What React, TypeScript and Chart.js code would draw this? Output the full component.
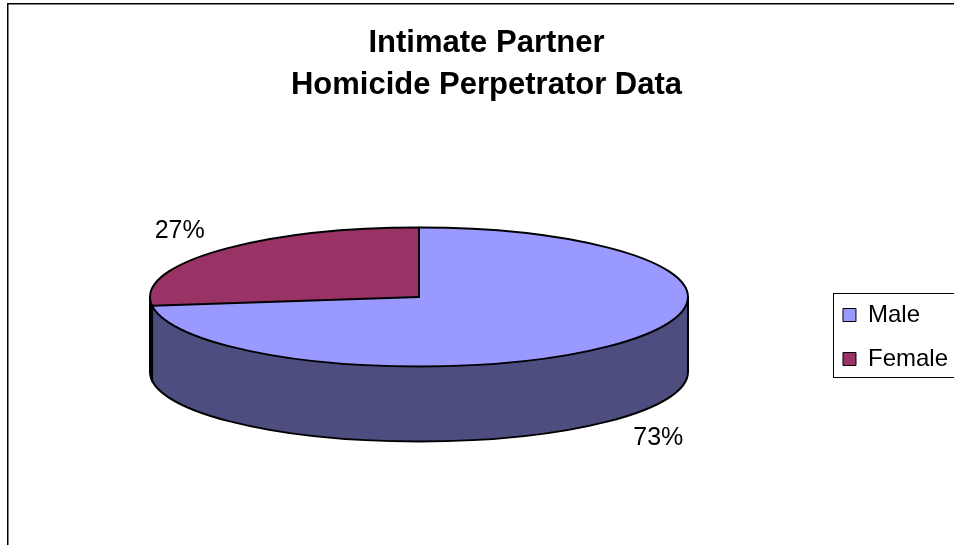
import React, { useEffect, useRef } from 'react';
import { Chart, registerables } from 'chart.js';

Chart.register(...registerables);

// ---- data ----
const categories = ['Male', 'Female'];
const shares = [73, 27];
const titleLines = ['Intimate Partner', 'Homicide Perpetrator Data'];

// ---- style ----
const topColors = ['#9999FF', '#993366'];
const sideColors = ['#4D4D80', '#4D1A33'];
const FONT = "'Liberation Sans', Arial, Helvetica, sans-serif";
const W = 962;
const H = 565;
const PIE_RX = 269;
const PIE_RY = 69.5;
const PIE_DEPTH = 75;
const PIE_LIFT = 40;
const LABEL_DX = 50;
const LABEL_DY = 30;

function geometry(chart: any) {
  const arcs = chart.getDatasetMeta(0).data as any[];
  const el = arcs[0];
  return { cx: el.x, cy: el.y - PIE_LIFT, arcs, el };
}

const pie3d = {
  id: 'pie3d',
  beforeDraw(chart: any) {
    const { ctx } = chart;
    ctx.save();
    ctx.fillStyle = '#ffffff';
    ctx.fillRect(0, 0, chart.width, chart.height);
    ctx.strokeStyle = '#000';
    ctx.lineWidth = 1.5;
    ctx.strokeRect(0.75, 0.75, chart.width - 1.5, chart.height - 1.5);
    ctx.restore();
  },
  beforeDatasetsDraw(chart: any) {
    const { ctx } = chart;
    const { cx, cy, arcs, el } = geometry(chart);
    // side walls (front half only)
    arcs.forEach((arc, i) => {
      const a0 = arc.startAngle;
      const a1 = arc.endAngle;
      for (let k = -1; k <= 1; k++) {
        const lo = Math.max(a0, 2 * Math.PI * k);
        const hi = Math.min(a1, 2 * Math.PI * k + Math.PI);
        if (hi <= lo) continue;
        ctx.beginPath();
        ctx.ellipse(cx, cy, PIE_RX, PIE_RY, 0, lo, hi);
        ctx.ellipse(cx, cy + PIE_DEPTH, PIE_RX, PIE_RY, 0, hi, lo, true);
        ctx.closePath();
        ctx.fillStyle = sideColors[i];
        ctx.fill();
      }
    });
    // flatten the library's pie into the top ellipse
    ctx.save();
    ctx.translate(cx, cy);
    ctx.scale(PIE_RX / el.outerRadius, PIE_RY / el.outerRadius);
    ctx.translate(-el.x, -el.y);
  },
  afterDatasetsDraw(chart: any) {
    const { ctx } = chart;
    ctx.restore();
    const { cx, cy, arcs } = geometry(chart);
    ctx.save();
    ctx.strokeStyle = '#000';
    ctx.lineWidth = 2;
    ctx.lineJoin = 'round';
    ctx.lineCap = 'round';
    // side outline
    ctx.beginPath();
    ctx.moveTo(cx + PIE_RX, cy);
    ctx.lineTo(cx + PIE_RX, cy + PIE_DEPTH);
    ctx.ellipse(cx, cy + PIE_DEPTH, PIE_RX, PIE_RY, 0, 0, Math.PI);
    ctx.lineTo(cx - PIE_RX, cy);
    ctx.stroke();
    // slice boundaries on the front wall
    arcs.forEach((arc) => {
      const a = arc.startAngle;
      const s = Math.sin(a);
      if (s > 0.001) {
        const x = cx + PIE_RX * Math.cos(a);
        const y = cy + PIE_RY * s;
        ctx.beginPath();
        ctx.moveTo(x, y);
        ctx.lineTo(x, y + PIE_DEPTH);
        ctx.stroke();
      }
    });
    // top outline
    ctx.beginPath();
    ctx.ellipse(cx, cy, PIE_RX, PIE_RY, 0, 0, Math.PI * 2);
    ctx.stroke();
    arcs.forEach((arc) => {
      const a = arc.startAngle;
      ctx.beginPath();
      ctx.moveTo(cx, cy);
      ctx.lineTo(cx + PIE_RX * Math.cos(a), cy + PIE_RY * Math.sin(a));
      ctx.stroke();
    });
    // percentage labels
    const total = shares.reduce((s, v) => s + v, 0);
    ctx.fillStyle = '#000';
    ctx.font = `25px ${FONT}`;
    ctx.textAlign = 'center';
    ctx.textBaseline = 'middle';
    arcs.forEach((arc, i) => {
      const mid = (arc.startAngle + arc.endAngle) / 2;
      const s = Math.sin(mid);
      const c = Math.cos(mid);
      const x = cx + (PIE_RX + LABEL_DX) * c;
      const y = cy + (PIE_RY + LABEL_DY) * s + (s > 0 ? PIE_DEPTH : 0);
      ctx.fillText(`${Math.round((shares[i] / total) * 100)}%`, x, y);
    });
    ctx.restore();
  },
  afterDraw(chart: any) {
    const { ctx } = chart;
    const hb = chart.legend && chart.legend.legendHitBoxes;
    if (!hb || !hb.length) return;
    const first = hb[0];
    const last = hb[hb.length - 1];
    const left = Math.round(first.left - 10) + 0.5;
    const top = Math.round(first.top - 10) + 0.5;
    const bottom = Math.round(last.top + last.height + 6) + 0.5;
    ctx.save();
    ctx.strokeStyle = '#000';
    ctx.lineWidth = 1;
    ctx.strokeRect(left, top, chart.width + 20 - left, bottom - top);
    ctx.restore();
  },
};

export default function App() {
  const ref = useRef<HTMLCanvasElement>(null);
  useEffect(() => {
    const chart = new Chart(ref.current as HTMLCanvasElement, {
      type: 'pie',
      data: {
        labels: categories,
        datasets: [
          {
            data: shares,
            backgroundColor: topColors,
            borderWidth: 0,
            clip: false,
          } as any,
        ],
      },
      options: {
        responsive: false,
        animation: false,
        events: [],
        layout: { padding: { left: 8, right: 11, top: 0, bottom: 0 } },
        plugins: {
          title: {
            display: true,
            text: titleLines,
            color: '#000',
            font: { family: FONT, size: 31, weight: 'bold', lineHeight: 42 / 31 },
            padding: { top: 19, bottom: 0 },
          },
          legend: {
            position: 'right',
            fullSize: false,
            labels: {
              boxWidth: 13,
              boxHeight: 13,
              padding: 20,
              color: '#000',
              font: { family: FONT, size: 24 },
              generateLabels: (c: any) =>
                (c.data.labels as string[]).map((text, i) => ({
                  text,
                  fillStyle: topColors[i],
                  strokeStyle: '#000',
                  lineWidth: 1,
                  hidden: false,
                  index: i,
                  fontColor: '#000',
                })),
            },
          },
          tooltip: { enabled: false },
        },
      } as any,
      plugins: [pie3d],
    });
    return () => chart.destroy();
  }, []);
  return (
    <div
      style={{
        position: 'fixed',
        left: 0,
        top: 0,
        width: 954,
        height: 545,
        overflow: 'hidden',
        background: '#fff',
      }}
    >
      <canvas
        ref={ref}
        width={W}
        height={H}
        style={{ position: 'absolute', left: 7, top: 3, width: W, height: H }}
      />
    </div>
  );
}
